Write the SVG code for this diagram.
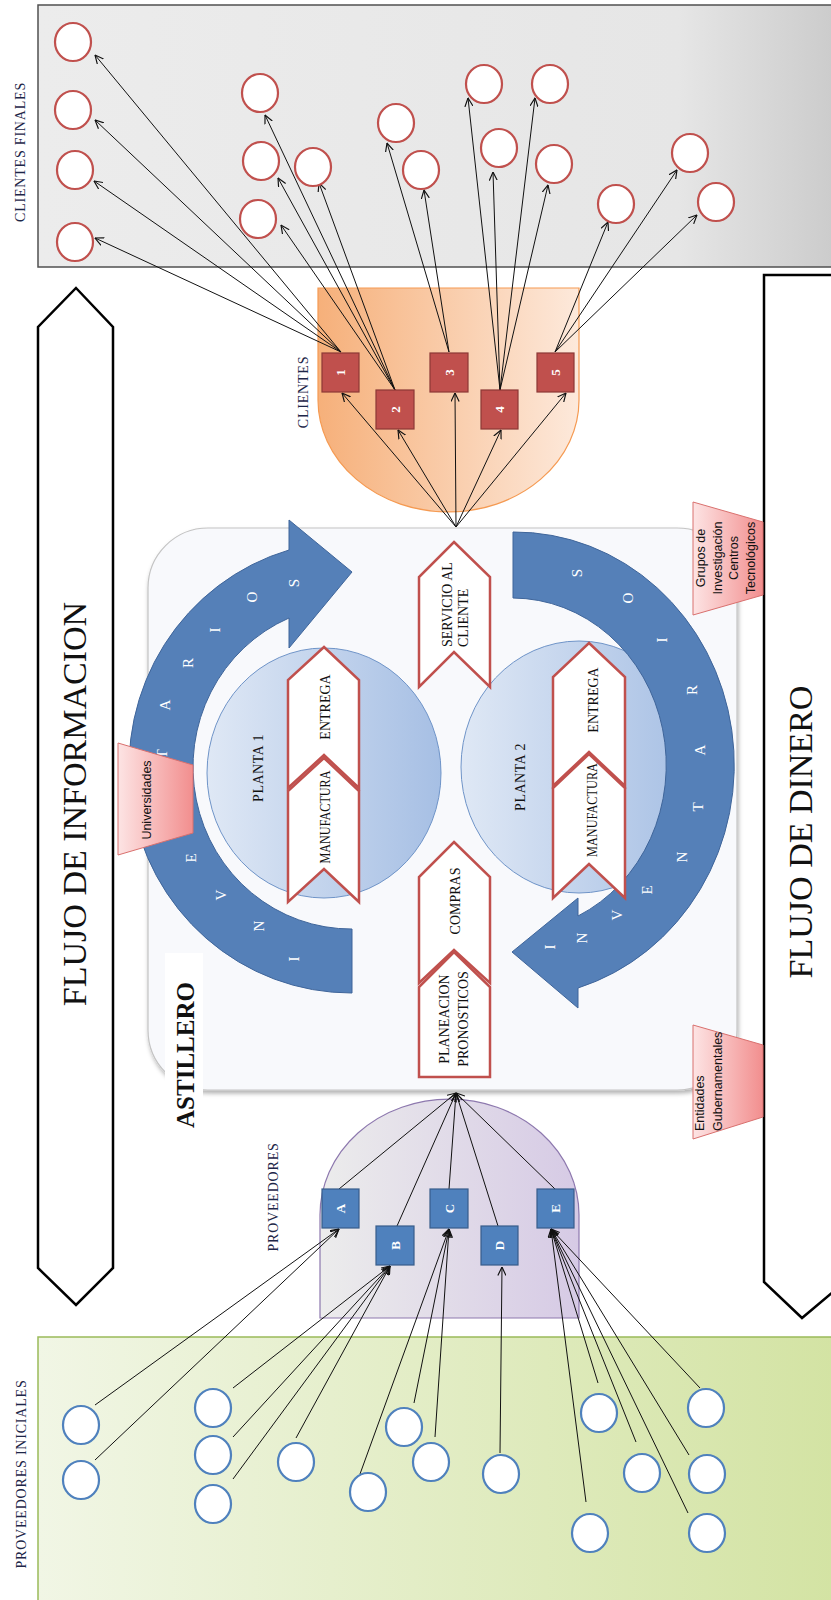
<svg xmlns="http://www.w3.org/2000/svg" width="831" height="1600" viewBox="0 0 831 1600">
  <defs>
    <linearGradient id="gGray" x1="0" y1="0" x2="1" y2="0">
      <stop offset="0" stop-color="#ececec"/>
      <stop offset="0.8" stop-color="#e6e6e6"/>
      <stop offset="1" stop-color="#cbcbcb"/>
    </linearGradient>
    <linearGradient id="gGreen" x1="0" y1="0" x2="1" y2="0">
      <stop offset="0" stop-color="#f1f6e5"/>
      <stop offset="1" stop-color="#d3e3a3"/>
    </linearGradient>
    <linearGradient id="gOrange" x1="0" y1="0" x2="1" y2="0">
      <stop offset="0" stop-color="#f6b07a"/>
      <stop offset="1" stop-color="#fde9db"/>
    </linearGradient>
    <linearGradient id="gPurple" x1="0" y1="0" x2="1" y2="0">
      <stop offset="0" stop-color="#ececec"/>
      <stop offset="1" stop-color="#d6cae5"/>
    </linearGradient>
    <linearGradient id="gPlant" x1="0" y1="0" x2="1" y2="0">
      <stop offset="0" stop-color="#dfe8f5"/>
      <stop offset="1" stop-color="#a6bfe4"/>
    </linearGradient>
    <linearGradient id="gPink" x1="0" y1="0" x2="1" y2="0">
      <stop offset="0" stop-color="#fde4e4"/>
      <stop offset="1" stop-color="#f28e8e"/>
    </linearGradient>
    <filter id="soft" x="-5%" y="-5%" width="112%" height="112%">
      <feDropShadow dx="1" dy="3" stdDeviation="2" flood-color="#000" flood-opacity="0.3"/>
    </filter>
    <marker id="arr" viewBox="0 0 10 10" refX="9.5" refY="5" markerWidth="9" markerHeight="9" markerUnits="userSpaceOnUse" orient="auto">
      <path d="M0,0.5 L9.5,5 L0,9.5" fill="none" stroke="#111" stroke-width="1.3"/>
    </marker>
    <style>
      .serif { font-family: "Liberation Serif", "Times New Roman", serif; }
      .sans { font-family: "Liberation Sans", Arial, sans-serif; }
      .lbl { font-family: "Liberation Serif", serif; font-size: 14px; fill: #1d2648; letter-spacing: 0.8px; }
      .big { font-family: "Liberation Serif", serif; font-size: 34px; fill: #111; }
      .step { fill: #fff; stroke: #c0504d; stroke-width: 2.5; stroke-linejoin: miter; }
      .steptxt { font-family: "Liberation Serif", serif; font-size: 14px; fill: #111; }
      .ring { fill: #5580b8; stroke: #3f659a; stroke-width: 1; }
      .ringtxt { font-family: "Liberation Serif", serif; font-size: 15px; fill: #fff; text-anchor: middle; }
      .cli { fill: #fff; stroke: #c0504d; stroke-width: 2.2; }
      .prov { fill: #fff; stroke: #4f81bd; stroke-width: 2.2; }
      .rbox { fill: #c0504d; stroke: #8c3836; stroke-width: 1.2; }
      .bbox { fill: #4f81bd; stroke: #385d8a; stroke-width: 1.2; }
      .boxtxt { font-family: "Liberation Serif", serif; font-size: 13px; font-weight: bold; fill: #fff; text-anchor: middle; }
      .trap { fill: url(#gPink); stroke: #d9706e; stroke-width: 1; }
      .traptxt { font-family: "Liberation Sans", Arial, sans-serif; font-size: 12.5px; fill: #111; }
      .conn line { stroke: #111; stroke-width: 1; }
      .flow { fill: #fff; stroke: #000; stroke-width: 2.5; stroke-linejoin: miter; }
    </style>
  </defs>

  <rect width="831" height="1600" fill="#fff"/>

  <!-- end customers panel -->
  <g id="clientes-finales">
    <rect x="38" y="5" width="800" height="262" fill="url(#gGray)" stroke="#505050" stroke-width="1.5"/>
    <text class="lbl" text-anchor="middle" transform="translate(25,152) rotate(-90)">CLIENTES FINALES</text>
  </g>

  <!-- initial suppliers panel -->
  <g id="proveedores-iniciales">
    <rect x="38" y="1337" width="800" height="270" fill="url(#gGreen)" stroke="#9bbb59" stroke-width="1.5"/>
    <text class="lbl" text-anchor="middle" transform="translate(26,1474) rotate(-90)">PROVEEDORES INICIALES</text>
  </g>

  <!-- information flow arrow -->
  <g id="flujo-informacion">
    <polygon class="flow" points="76,288 113,327 113,1268 76,1305 38,1268 38,327"/>
    <text class="big" text-anchor="middle" transform="translate(86,804) rotate(-90)">FLUJO DE INFORMACION</text>
  </g>

  <!-- money flow arrow -->
  <g id="flujo-dinero">
    <polygon class="flow" points="764,275 845,275 845,1282 802,1318 764,1282"/>
    <text class="big" text-anchor="middle" transform="translate(812,832) rotate(-90)">FLUJO DE DINERO</text>
  </g>

  <!-- shipyard -->
  <g id="astillero">
    <rect x="148" y="528" width="589" height="562" rx="60" ry="60" fill="#f8f9fc" stroke="#c4c4c4" stroke-width="1.2" filter="url(#soft)"/>
    <rect x="165" y="953" width="38" height="180" fill="#fff"/>
    <text class="serif" text-anchor="middle" font-size="25" font-weight="bold" fill="#111" transform="translate(194,1055) rotate(-90)">ASTILLERO</text>
  </g>

  <!-- plants -->
  <g id="planta-1">
    <ellipse cx="324" cy="773" rx="117" ry="125" fill="url(#gPlant)" stroke="#6f94c8" stroke-width="1"/>
    <text class="steptxt" font-size="15" text-anchor="middle" letter-spacing="0.5" transform="translate(263,768) rotate(-90)">PLANTA 1</text>
  </g>
  <g id="planta-2">
    <ellipse cx="579" cy="767" rx="118" ry="126" fill="url(#gPlant)" stroke="#6f94c8" stroke-width="1"/>
    <text class="steptxt" font-size="15" text-anchor="middle" letter-spacing="0.5" transform="translate(525,777) rotate(-90)">PLANTA 2</text>
  </g>

  <!-- inventory cycle arrows -->
  <g id="inventario-1">
    <path class="ring" d="M352,993 A222,226 0 0 1 289,550 L289,520 L352,572 L289,648 L289,618 A158,162 0 0 0 352,929 Z"/>
    <text class="ringtxt" transform="translate(299,959) rotate(-90)">I</text>
    <text class="ringtxt" transform="translate(264,926) rotate(-90)">N</text>
    <text class="ringtxt" transform="translate(226,895) rotate(-90)">V</text>
    <text class="ringtxt" transform="translate(196,858) rotate(-90)">E</text>
    <text class="ringtxt" transform="translate(175,806) rotate(-90)">N</text>
    <text class="ringtxt" transform="translate(167,754) rotate(-90)">T</text>
    <text class="ringtxt" transform="translate(170,705) rotate(-90)">A</text>
    <text class="ringtxt" transform="translate(193,663) rotate(-90)">R</text>
    <text class="ringtxt" transform="translate(220,630) rotate(-90)">I</text>
    <text class="ringtxt" transform="translate(257,597) rotate(-90)">O</text>
    <text class="ringtxt" transform="translate(299,583) rotate(-90)">S</text>
  </g>
  <g id="inventario-2">
    <path class="ring" d="M513,532 A220,233 0 0 1 578,988 L578,1008 L512,952 L578,898 L578,916 A154,167 0 0 0 513,598 Z"/>
    <text class="ringtxt" transform="translate(555,947) rotate(-90)">I</text>
    <text class="ringtxt" transform="translate(587,938) rotate(-90)">N</text>
    <text class="ringtxt" transform="translate(622,915) rotate(-90)">V</text>
    <text class="ringtxt" transform="translate(652,890) rotate(-90)">E</text>
    <text class="ringtxt" transform="translate(687,857) rotate(-90)">N</text>
    <text class="ringtxt" transform="translate(703,807) rotate(-90)">T</text>
    <text class="ringtxt" transform="translate(705,750) rotate(-90)">A</text>
    <text class="ringtxt" transform="translate(697,690) rotate(-90)">R</text>
    <text class="ringtxt" transform="translate(667,640) rotate(-90)">I</text>
    <text class="ringtxt" transform="translate(633,598) rotate(-90)">O</text>
    <text class="ringtxt" transform="translate(582,573) rotate(-90)">S</text>
  </g>

  <!-- process steps -->
  <g id="p1-entrega">
    <path class="step" d="M324,647 L359,680 L359,788 L324,755 L288,788 L288,680 Z"/>
    <text class="steptxt" text-anchor="middle" transform="translate(330,707) rotate(-90)">ENTREGA</text>
  </g>
  <g id="p1-manufactura">
    <path class="step" d="M324,758 L359,791 L359,902 L324,869 L288,902 L288,791 Z"/>
    <text class="steptxt" text-anchor="middle" textLength="93" lengthAdjust="spacingAndGlyphs" transform="translate(330,817) rotate(-90)">MANUFACTURA</text>
  </g>
  <g id="p2-entrega">
    <path class="step" d="M589,643 L625,677 L625,786 L589,752 L553,786 L553,677 Z"/>
    <text class="steptxt" text-anchor="middle" transform="translate(598,700) rotate(-90)">ENTREGA</text>
  </g>
  <g id="p2-manufactura">
    <path class="step" d="M589,754 L625,788 L625,898 L589,864 L553,898 L553,788 Z"/>
    <text class="steptxt" text-anchor="middle" textLength="94" lengthAdjust="spacingAndGlyphs" transform="translate(597,810) rotate(-90)">MANUFACTURA</text>
  </g>
  <g id="servicio-cliente">
    <path class="step" d="M454,542 L490,577 L490,687 L454,652 L419,687 L419,577 Z"/>
    <text class="steptxt" transform="translate(452,647) rotate(-90)">SERVICIO AL</text>
    <text class="steptxt" transform="translate(468,647) rotate(-90)">CLIENTE</text>
  </g>
  <g id="compras">
    <path class="step" d="M454,842 L490,877 L490,983 L454,950 L419,983 L419,877 Z"/>
    <text class="steptxt" text-anchor="middle" transform="translate(460,901) rotate(-90)">COMPRAS</text>
  </g>
  <g id="planeacion">
    <path class="step" d="M454,952 L490,987 L490,1077 L419,1077 L419,987 Z"/>
    <text class="steptxt" text-anchor="middle" transform="translate(449,1019) rotate(-90)">PLANEACION</text>
    <text class="steptxt" text-anchor="middle" transform="translate(468,1019) rotate(-90)">PRONOSTICOS</text>
  </g>

  <!-- external institutions -->
  <g id="universidades">
    <polygon class="trap" points="118,743 193,765 193,833 118,855"/>
    <text class="traptxt" text-anchor="middle" transform="translate(151,800) rotate(-90)">Universidades</text>
  </g>
  <g id="grupos-investigacion">
    <polygon class="trap" points="693,502 763,522 763,595 693,615"/>
    <text class="traptxt" text-anchor="middle" transform="translate(705,558) rotate(-90)">Grupos de</text>
    <text class="traptxt" text-anchor="middle" transform="translate(721.5,558) rotate(-90)">Investigación</text>
    <text class="traptxt" text-anchor="middle" transform="translate(738,558) rotate(-90)">Centros</text>
    <text class="traptxt" text-anchor="middle" transform="translate(754.5,558) rotate(-90)">Tecnológicos</text>
  </g>
  <g id="entidades-gubernamentales">
    <polygon class="trap" points="693,1025 763,1045 763,1117 693,1139"/>
    <text class="traptxt" transform="translate(704,1131) rotate(-90)">Entidades</text>
    <text class="traptxt" transform="translate(722,1131) rotate(-90)">Gubernamentales</text>
  </g>

  <!-- customers -->
  <g id="clientes">
    <path d="M318,288 H579 V400 A130.5,112 0 0 1 318,400 Z" fill="url(#gOrange)" stroke="#f59a52" stroke-width="1.2"/>
    <text class="lbl" text-anchor="middle" letter-spacing="0.3" transform="translate(308,392) rotate(-90)">CLIENTES</text>
  </g>

  <!-- suppliers -->
  <g id="proveedores">
    <path d="M320,1318 V1215 A129.5,116 0 0 1 579,1215 V1318 Z" fill="url(#gPurple)" stroke="#8d78ae" stroke-width="1.2"/>
    <text class="lbl" text-anchor="middle" transform="translate(278,1197) rotate(-90)">PROVEEDORES</text>
  </g>

  <!-- connectors -->
  <g id="connectors" class="conn">
    <!-- shipyard to customers -->
    <line x1="456" y1="527" x2="342" y2="393" marker-end="url(#arr)"/>
    <line x1="456" y1="527" x2="398" y2="430" marker-end="url(#arr)"/>
    <line x1="456" y1="527" x2="455" y2="393" marker-end="url(#arr)"/>
    <line x1="456" y1="527" x2="501" y2="430" marker-end="url(#arr)"/>
    <line x1="456" y1="527" x2="566" y2="393" marker-end="url(#arr)"/>
    <!-- customer 1 -->
    <line x1="341" y1="352" x2="95" y2="55" marker-end="url(#arr)"/>
    <line x1="341" y1="352" x2="95" y2="120" marker-end="url(#arr)"/>
    <line x1="341" y1="352" x2="94" y2="181" marker-end="url(#arr)"/>
    <line x1="341" y1="352" x2="95" y2="238" marker-end="url(#arr)"/>
    <!-- customer 2 -->
    <line x1="395" y1="390" x2="265" y2="115" marker-end="url(#arr)"/>
    <line x1="395" y1="390" x2="278" y2="178" marker-end="url(#arr)"/>
    <line x1="395" y1="390" x2="319" y2="183" marker-end="url(#arr)"/>
    <line x1="395" y1="390" x2="281" y2="225" marker-end="url(#arr)"/>
    <!-- customer 3 -->
    <line x1="449" y1="352" x2="387" y2="143" marker-end="url(#arr)"/>
    <line x1="449" y1="352" x2="424" y2="190" marker-end="url(#arr)"/>
    <!-- customer 4 -->
    <line x1="500" y1="390" x2="468" y2="98" marker-end="url(#arr)"/>
    <line x1="500" y1="390" x2="535" y2="98" marker-end="url(#arr)"/>
    <line x1="500" y1="390" x2="493" y2="172" marker-end="url(#arr)"/>
    <line x1="500" y1="390" x2="548" y2="185" marker-end="url(#arr)"/>
    <!-- customer 5 -->
    <line x1="555" y1="352" x2="608" y2="222" marker-end="url(#arr)"/>
    <line x1="555" y1="352" x2="677" y2="170" marker-end="url(#arr)"/>
    <line x1="555" y1="352" x2="697" y2="215" marker-end="url(#arr)"/>
    <!-- suppliers to shipyard -->
    <line x1="339" y1="1189" x2="456" y2="1093" marker-end="url(#arr)"/>
    <line x1="397" y1="1226" x2="456" y2="1093" marker-end="url(#arr)"/>
    <line x1="449" y1="1189" x2="456" y2="1093" marker-end="url(#arr)"/>
    <line x1="498" y1="1226" x2="456" y2="1093" marker-end="url(#arr)"/>
    <line x1="555" y1="1189" x2="456" y2="1093" marker-end="url(#arr)"/>
    <!-- initial suppliers to A -->
    <line x1="95" y1="1405" x2="339" y2="1229" marker-end="url(#arr)"/>
    <line x1="95" y1="1460" x2="339" y2="1229" marker-end="url(#arr)"/>
    <!-- to B -->
    <line x1="233" y1="1388" x2="390" y2="1266" marker-end="url(#arr)"/>
    <line x1="233" y1="1437" x2="390" y2="1266" marker-end="url(#arr)"/>
    <line x1="233" y1="1479" x2="390" y2="1266" marker-end="url(#arr)"/>
    <line x1="296" y1="1438" x2="390" y2="1266" marker-end="url(#arr)"/>
    <!-- to C -->
    <line x1="360" y1="1474" x2="449" y2="1229" marker-end="url(#arr)"/>
    <line x1="414" y1="1403" x2="449" y2="1229" marker-end="url(#arr)"/>
    <line x1="435" y1="1437" x2="449" y2="1229" marker-end="url(#arr)"/>
    <!-- to D -->
    <line x1="500" y1="1453" x2="502" y2="1267" marker-end="url(#arr)"/>
    <!-- to E -->
    <line x1="598" y1="1383" x2="551" y2="1229" marker-end="url(#arr)"/>
    <line x1="636" y1="1442" x2="551" y2="1229" marker-end="url(#arr)"/>
    <line x1="586" y1="1502" x2="551" y2="1229" marker-end="url(#arr)"/>
    <line x1="700" y1="1388" x2="551" y2="1229" marker-end="url(#arr)"/>
    <line x1="689" y1="1455" x2="551" y2="1229" marker-end="url(#arr)"/>
    <line x1="688" y1="1513" x2="551" y2="1229" marker-end="url(#arr)"/>
  </g>

  <!-- customer boxes -->
  <g id="cliente-1"><rect class="rbox" x="322" y="353" width="37" height="39"/><text class="boxtxt" transform="translate(345,372.5) rotate(-90)">1</text></g>
  <g id="cliente-2"><rect class="rbox" x="376" y="390" width="38" height="39"/><text class="boxtxt" transform="translate(399.5,409.5) rotate(-90)">2</text></g>
  <g id="cliente-3"><rect class="rbox" x="430" y="353" width="38" height="39"/><text class="boxtxt" transform="translate(453.5,372.5) rotate(-90)">3</text></g>
  <g id="cliente-4"><rect class="rbox" x="481" y="390" width="37" height="39"/><text class="boxtxt" transform="translate(504,409.5) rotate(-90)">4</text></g>
  <g id="cliente-5"><rect class="rbox" x="537" y="353" width="37" height="39"/><text class="boxtxt" transform="translate(560,372.5) rotate(-90)">5</text></g>

  <!-- supplier boxes -->
  <g id="proveedor-a"><rect class="bbox" x="322" y="1189" width="37" height="39"/><text class="boxtxt" transform="translate(345,1208.5) rotate(-90)">A</text></g>
  <g id="proveedor-b"><rect class="bbox" x="376" y="1226" width="38" height="39"/><text class="boxtxt" transform="translate(399.5,1245.5) rotate(-90)">B</text></g>
  <g id="proveedor-c"><rect class="bbox" x="430" y="1189" width="38" height="39"/><text class="boxtxt" transform="translate(453.5,1208.5) rotate(-90)">C</text></g>
  <g id="proveedor-d"><rect class="bbox" x="481" y="1226" width="37" height="39"/><text class="boxtxt" transform="translate(504,1245.5) rotate(-90)">D</text></g>
  <g id="proveedor-e"><rect class="bbox" x="537" y="1189" width="37" height="39"/><text class="boxtxt" transform="translate(560,1208.5) rotate(-90)">E</text></g>

  <!-- end customers -->
  <g id="clientes-finales-nodos">
    <ellipse class="cli" cx="73" cy="42" rx="18" ry="19"/>
    <ellipse class="cli" cx="73" cy="110" rx="18" ry="19"/>
    <ellipse class="cli" cx="75" cy="170" rx="18" ry="19"/>
    <ellipse class="cli" cx="75" cy="242" rx="18" ry="19"/>
    <ellipse class="cli" cx="260" cy="93" rx="18" ry="19"/>
    <ellipse class="cli" cx="261" cy="161" rx="18" ry="19"/>
    <ellipse class="cli" cx="313" cy="167" rx="18" ry="19"/>
    <ellipse class="cli" cx="258" cy="219" rx="18" ry="19"/>
    <ellipse class="cli" cx="396" cy="123" rx="18" ry="19"/>
    <ellipse class="cli" cx="421" cy="170" rx="18" ry="19"/>
    <ellipse class="cli" cx="484" cy="84" rx="18" ry="19"/>
    <ellipse class="cli" cx="550" cy="84" rx="18" ry="19"/>
    <ellipse class="cli" cx="499" cy="148" rx="18" ry="19"/>
    <ellipse class="cli" cx="554" cy="164" rx="18" ry="19"/>
    <ellipse class="cli" cx="616" cy="204" rx="18" ry="19"/>
    <ellipse class="cli" cx="690" cy="153" rx="18" ry="19"/>
    <ellipse class="cli" cx="716" cy="202" rx="18" ry="19"/>
  </g>

  <!-- initial suppliers -->
  <g id="proveedores-iniciales-nodos">
    <ellipse class="prov" cx="81" cy="1425" rx="18" ry="19"/>
    <ellipse class="prov" cx="81" cy="1480" rx="18" ry="19"/>
    <ellipse class="prov" cx="213" cy="1408" rx="18" ry="19"/>
    <ellipse class="prov" cx="213" cy="1455" rx="18" ry="19"/>
    <ellipse class="prov" cx="213" cy="1504" rx="18" ry="19"/>
    <ellipse class="prov" cx="296" cy="1462" rx="18" ry="19"/>
    <ellipse class="prov" cx="368" cy="1492" rx="18" ry="19"/>
    <ellipse class="prov" cx="404" cy="1427" rx="18" ry="19"/>
    <ellipse class="prov" cx="431" cy="1462" rx="18" ry="19"/>
    <ellipse class="prov" cx="501" cy="1474" rx="18" ry="19"/>
    <ellipse class="prov" cx="599" cy="1413" rx="18" ry="19"/>
    <ellipse class="prov" cx="642" cy="1473" rx="18" ry="19"/>
    <ellipse class="prov" cx="590" cy="1533" rx="18" ry="19"/>
    <ellipse class="prov" cx="706" cy="1408" rx="18" ry="19"/>
    <ellipse class="prov" cx="707" cy="1474" rx="18" ry="19"/>
    <ellipse class="prov" cx="707" cy="1533" rx="18" ry="19"/>
  </g>
</svg>
